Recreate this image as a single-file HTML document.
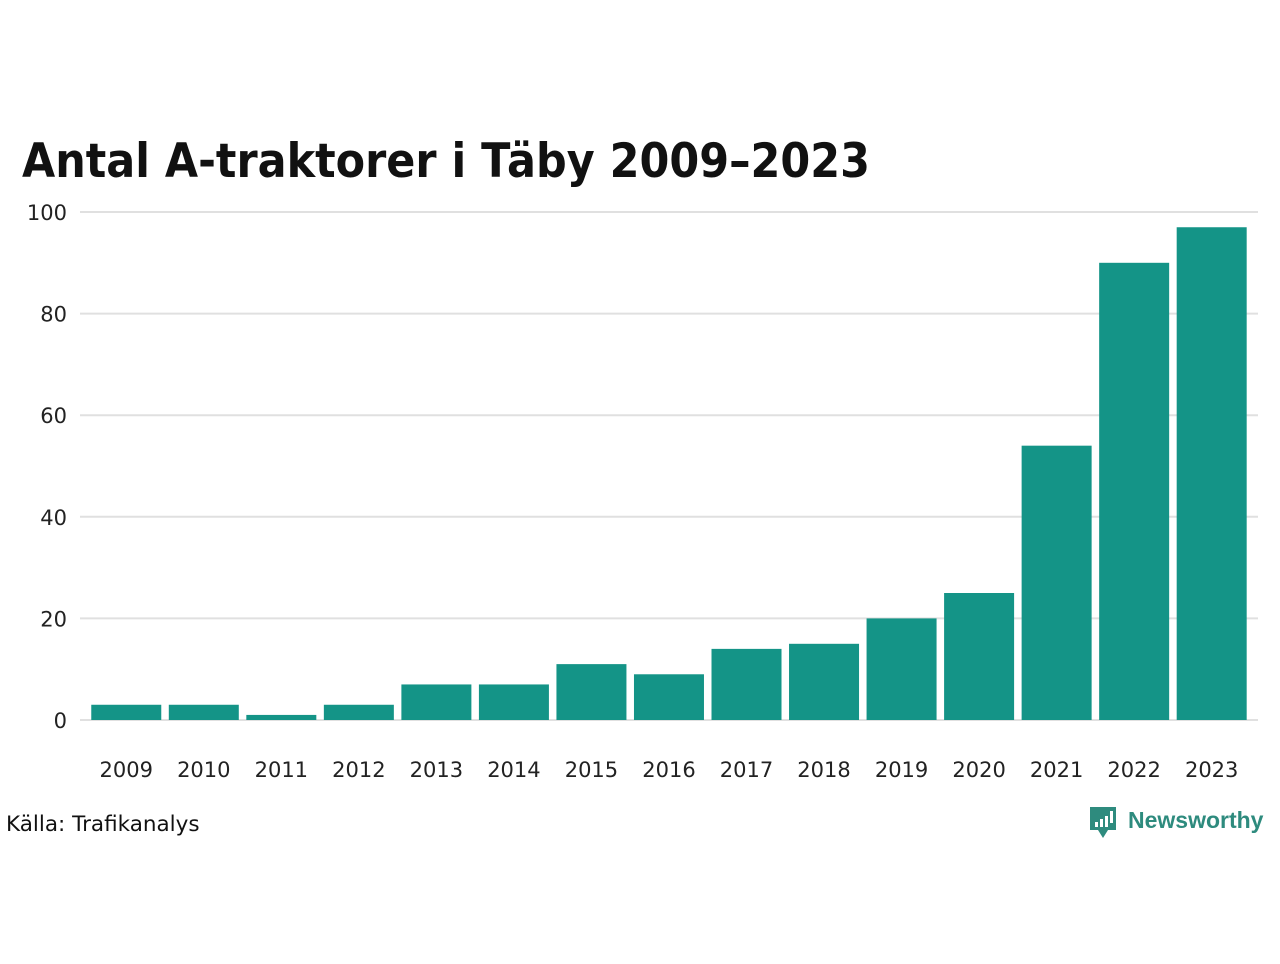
<!DOCTYPE html>
<html><head><meta charset="utf-8"><style>
body{margin:0;background:#fff;width:1280px;height:960px;overflow:hidden;font-family:"DejaVu Sans","Liberation Sans",sans-serif}
</style></head><body>
<svg width="1280" height="960">
<text x="22" y="177" font-size="47" font-weight="bold" fill="#111" textLength="848" lengthAdjust="spacingAndGlyphs">Antal A-traktorer i Täby 2009–2023</text>
<g id="grid"></g><g id="bars"></g><g id="xl"></g>
<text x="6" y="831" font-size="21.5" fill="#111">Källa: Trafikanalys</text>
<g>
<path d="M1090 807 h26 v23 h-8 l-5 8 l-5 -8 h-8 z" fill="#2e8b7e"/>
<rect x="1095" y="822" width="3" height="5" fill="#fff"/><rect x="1100" y="819" width="3" height="8" fill="#fff"/><rect x="1105" y="816" width="3" height="11" fill="#fff"/><rect x="1110" y="811" width="3" height="12" fill="#fff"/>
<text x="1128" y="828" font-size="23" font-weight="bold" fill="#2e8b7e" font-family="Liberation Sans, sans-serif">Newsworthy</text>
</g>
</svg>
<script>
const categories=["2009","2010","2011","2012","2013","2014","2015","2016","2017","2018","2019","2020","2021","2022","2023"];
const values=[3,3,1,3,7,7,11,9,14,15,20,25,54,90,97];
const yTicks=[0,20,40,60,80,100];
const NS="http://www.w3.org/2000/svg";
const y0=720,yTop=212,yMax=100;
const yScale=v=>y0-(v/yMax)*(y0-yTop);
const left=87.5,step=77.53,bw=70;
const xScale=i=>left+i*step+(step-bw)/2;
function mk(t,a,p){const e=document.createElementNS(NS,t);for(const k in a)e.setAttribute(k,a[k]);p.appendChild(e);return e;}
const g=document.getElementById('grid');
yTicks.forEach(t=>{
 const l=mk('line',{x1:80,x2:1258,y1:yScale(t),y2:yScale(t),stroke:'#e0e0e0','stroke-width':2},g);
 
 
 const tx=mk('text',{x:67,y:yScale(t)+8,'text-anchor':'end','font-size':21,fill:'#222'},g);
 tx.textContent=t;
 
 
});
const b=document.getElementById('bars'),xl=document.getElementById('xl');
values.forEach((v,i)=>{
 const r=mk('rect',{x:xScale(i),y:yScale(v),width:bw,height:y0-yScale(v),fill:'#149487'},b);
 
 
 const tx=mk('text',{x:xScale(i)+bw/2,y:777,'text-anchor':'middle','font-size':21,fill:'#222'},xl);
 tx.textContent=categories[i];
 
 
});
</script>
</body></html>
